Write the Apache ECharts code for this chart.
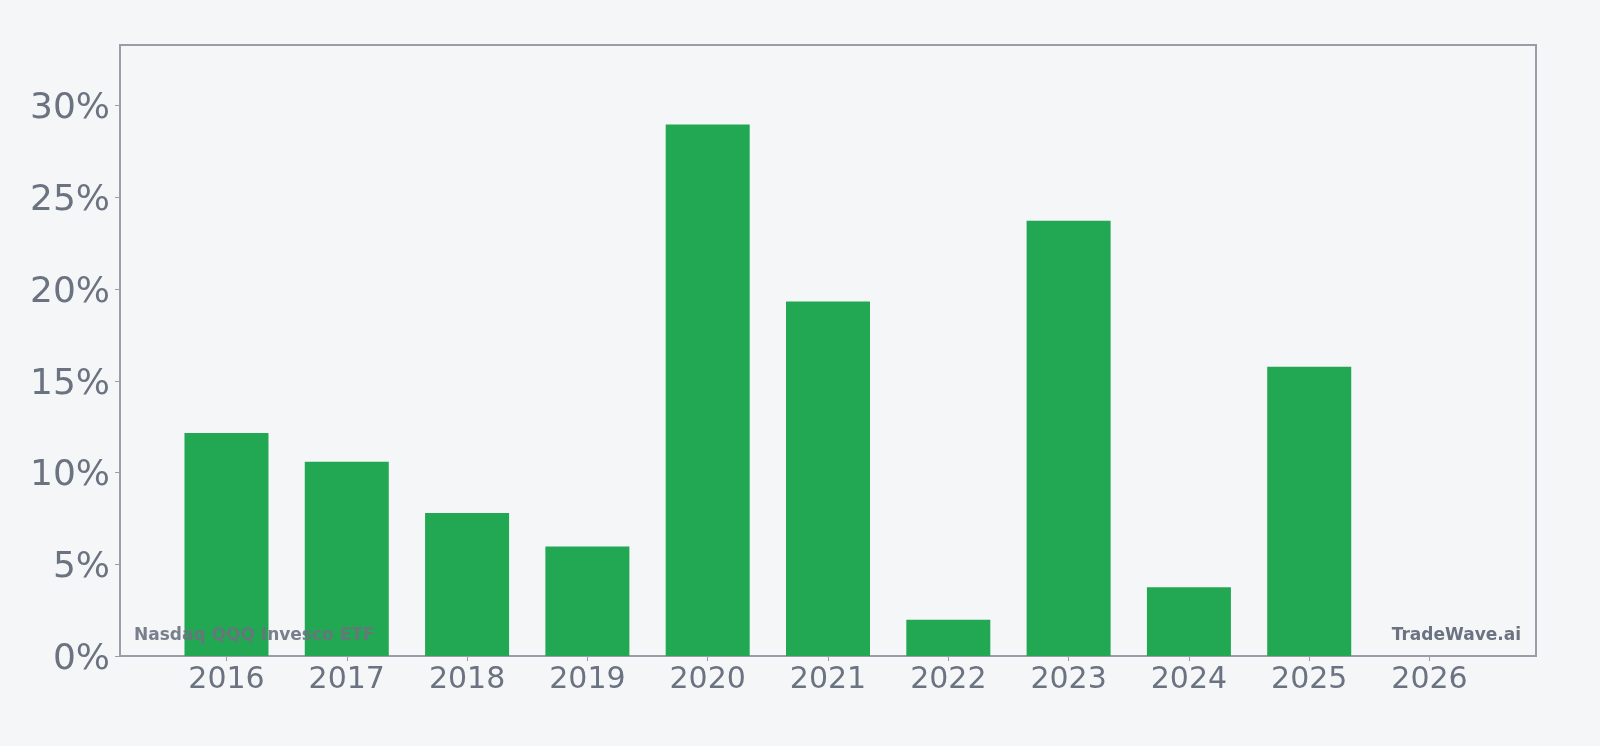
<!DOCTYPE html>
<html>
<head>
<meta charset="utf-8">
<script src="https://cdn.jsdelivr.net/npm/echarts@6/dist/echarts.min.js"></script>
<style>
  html, body { margin: 0; padding: 0; background: #f4f6f8; }
  #chart { width: 1600px; height: 746px; }
</style>
</head>
<body>
<div id="chart"></div>
<script>
const years = [2016, 2017, 2018, 2019, 2020, 2021, 2022, 2023, 2024, 2025, 2026]
const returns = [12.15, 10.58, 7.8, 5.97, 28.97, 19.32, 1.97, 23.72, 3.75, 15.77, null]
const yTicks = [0, 5, 10, 15, 20, 25, 30]

const labelColor = "#6b7280"
const frameColor = "#9a9ca8"

const chart = echarts.init(document.getElementById("chart"))

chart.setOption({
  backgroundColor: "#f4f6f8",
  animation: false,
  grid: {
    left: 120, right: 64, top: 45, bottom: 90,
    show: true,
    borderColor: frameColor,
    borderWidth: 2,
    backgroundColor: "transparent",
  },
  xAxis: {
    type: "value",
    min: 2015.115,
    max: 2026.885,
    splitNumber: 11,
    axisLine: { show: false },
    axisTick: { show: true, length: 5, lineStyle: { color: frameColor } },
    splitLine: { show: false },
    axisLabel: {
      color: labelColor,
      fontSize: 30,
      fontFamily: "DejaVu Sans",
      margin: 9,
      showMinLabel: false,
      showMaxLabel: false,
      formatter: v => (years.includes(v) ? String(v) : ""),
    },
  },
  yAxis: {
    type: "value",
    min: 0,
    max: 33.3,
    interval: 5,
    axisLine: { show: false },
    axisTick: { show: true, length: 5, lineStyle: { color: frameColor } },
    splitLine: { show: false },
    axisLabel: {
      color: labelColor,
      margin: 10,
      showMaxLabel: false,
      formatter: v => (yTicks.includes(v) ? "{v|" + v + "%}" : ""),
      rich: {
        v: {
          color: labelColor,
          fontSize: 36,
          fontFamily: "DejaVu Sans",
          padding: [7, 0, 0, 0],
        },
      },
    },
  },
  graphic: [
    {
      type: "text",
      left: 134,
      top: 627,
      z: 100,
      style: { text: "Nasdaq QQQ Invesco ETF", fill: labelColor, font: "bold 17px 'DejaVu Sans'", opacity: 0.9 },
    },
    {
      type: "text",
      right: 79,
      top: 627,
      z: 100,
      style: { text: "TradeWave.ai", fill: labelColor, font: "bold 17px 'DejaVu Sans'" },
    },
  ],
  series: [
    {
      type: "bar",
      barWidth: 84,
      data: years.map((y, i) => [y, returns[i]]),
      itemStyle: { color: "#22a753" },
    },
  ],
})
</script>
</body>
</html>
